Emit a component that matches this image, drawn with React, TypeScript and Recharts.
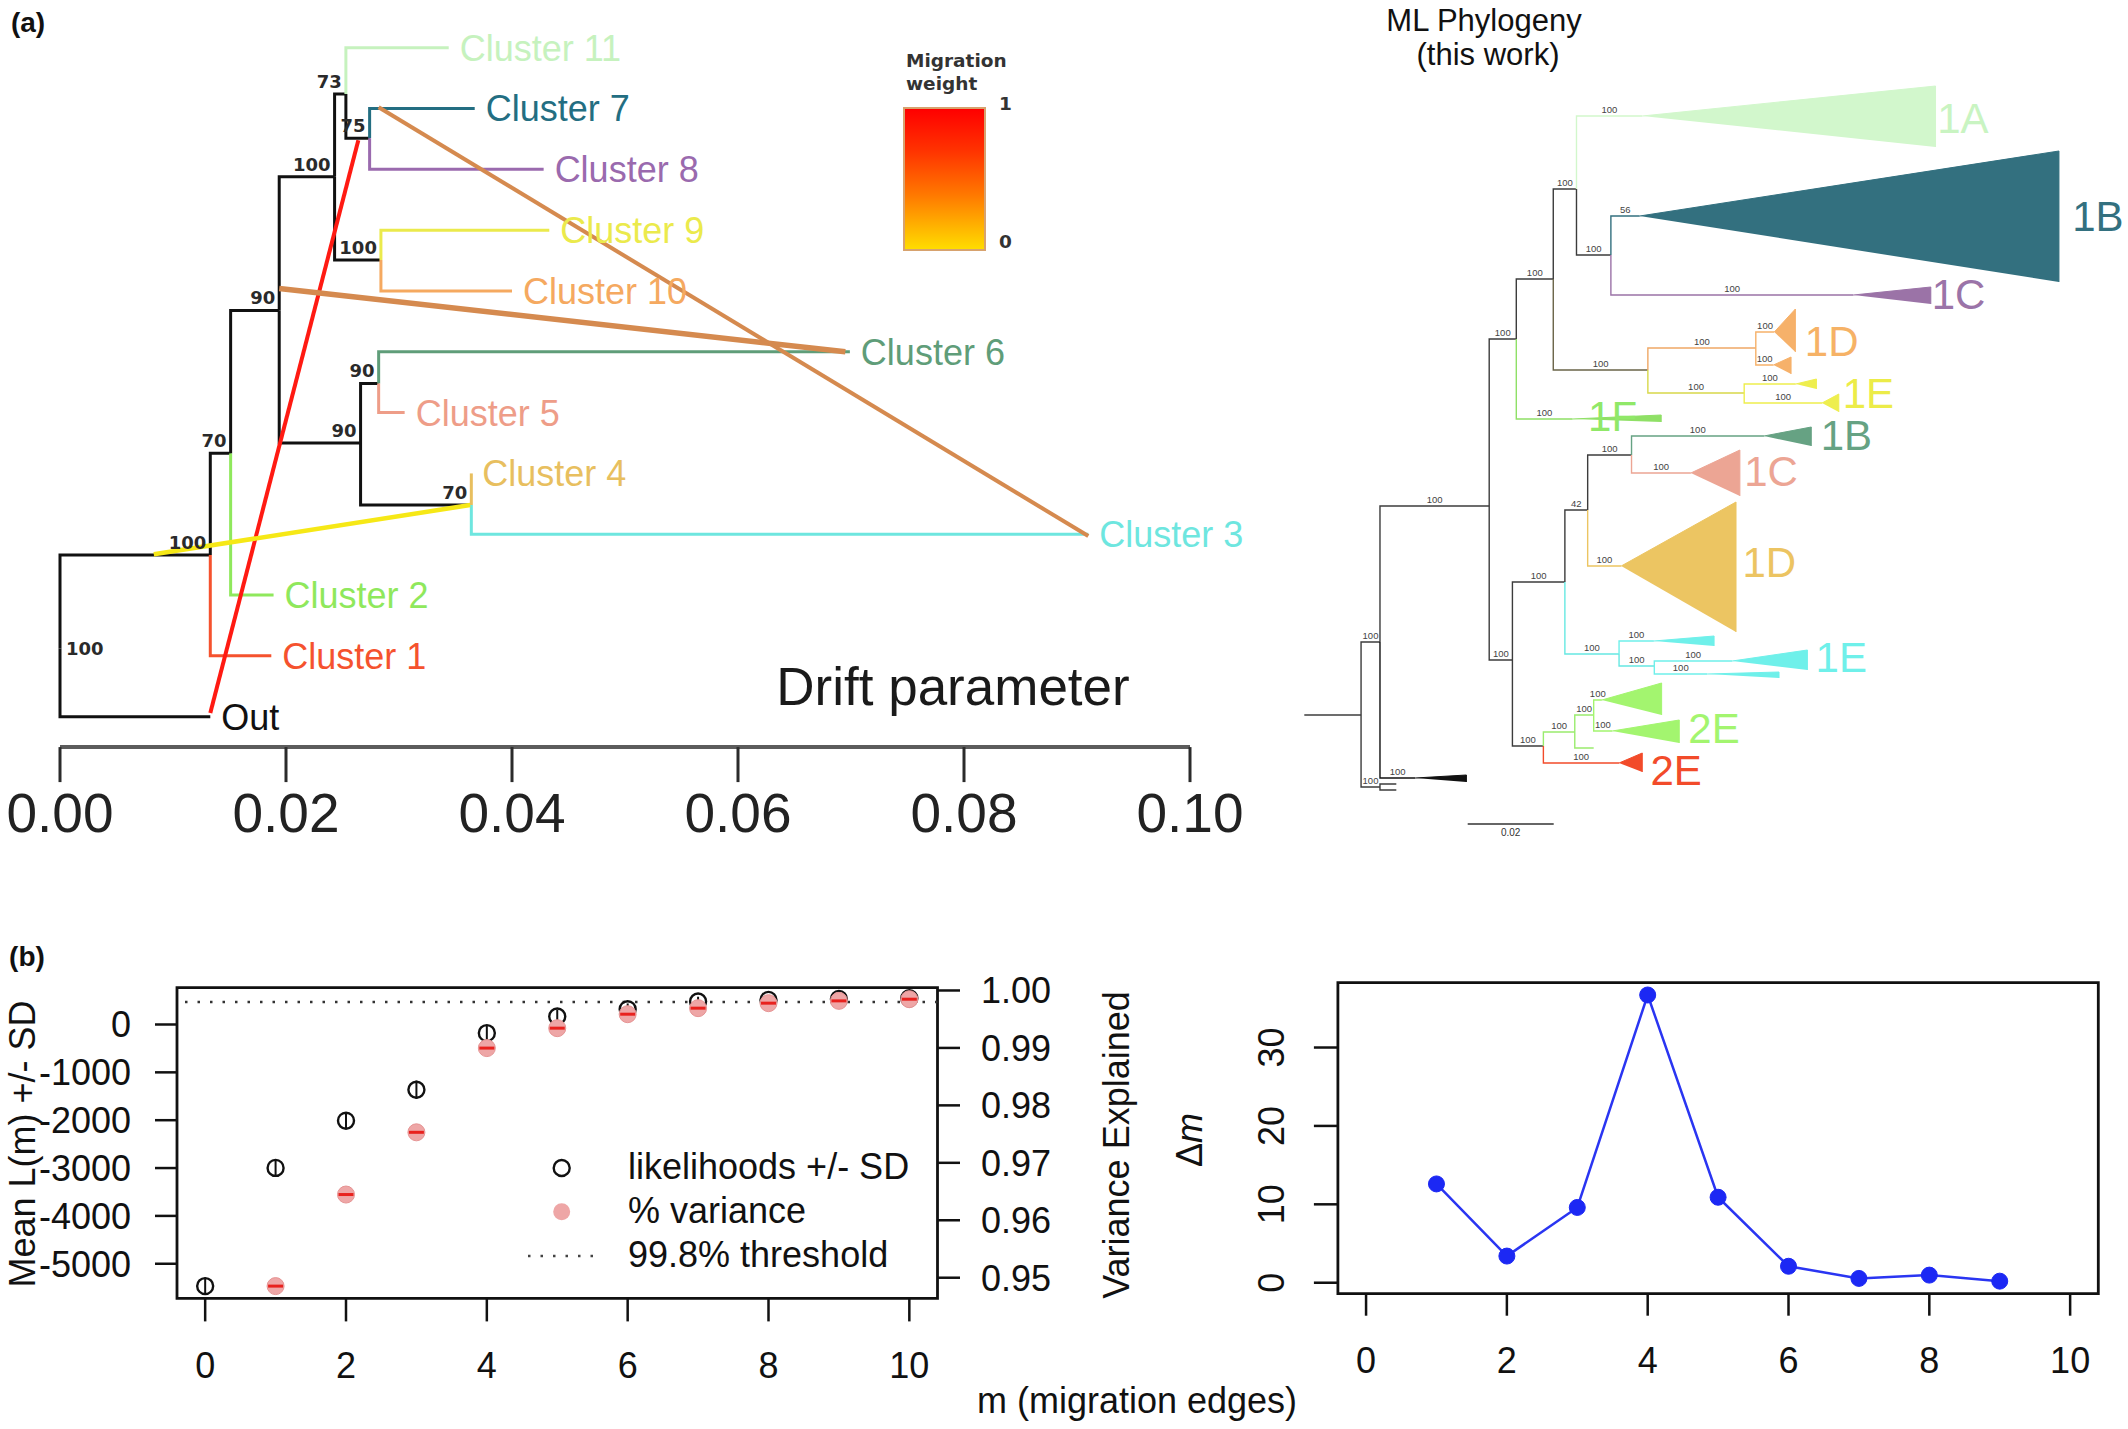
import React from "react";
import {
  ScatterChart,
  Scatter,
  XAxis,
  YAxis,
  ReferenceLine,
  ReferenceArea,
  ComposedChart,
  Line,
  LineChart,
  ErrorBar,
} from "recharts";

const SANS = "'Liberation Sans', Arial, Helvetica, sans-serif";
const DEJAVU = "'DejaVu Sans', Verdana, sans-serif";

// ---------- (a) TreeMix tree: x = drift parameter, y = row (Out = 0 ... Cluster 11 = 11)
const tmTips = [
  { id: "Out", x: 0.0133, y: 0 },
  { id: "Cluster 1", x: 0.0187, y: 1 },
  { id: "Cluster 2", x: 0.0189, y: 2 },
  { id: "Cluster 3", x: 0.091, y: 3 },
  { id: "Cluster 4", x: 0.0364, y: 4 },
  { id: "Cluster 5", x: 0.0305, y: 5 },
  { id: "Cluster 6", x: 0.0699, y: 6 },
  { id: "Cluster 10", x: 0.04, y: 7 },
  { id: "Cluster 9", x: 0.0433, y: 8 },
  { id: "Cluster 8", x: 0.0428, y: 9 },
  { id: "Cluster 7", x: 0.0367, y: 10 },
  { id: "Cluster 11", x: 0.0344, y: 11 },
];

const tmNodes = [
  { id: "root", x: 0, y: 1.12, boot: 100 },
  { id: "A", x: 0.0133, y: 2.66, boot: 100 },
  { id: "B", x: 0.0151, y: 4.33, boot: 70 },
  { id: "C", x: 0.0194, y: 6.68, boot: 90 },
  { id: "D", x: 0.0243, y: 8.88, boot: 100 },
  { id: "F", x: 0.0253, y: 10.24, boot: 73 },
  { id: "H", x: 0.0274, y: 9.51, boot: 75 },
  { id: "G", x: 0.0284, y: 7.51, boot: 100 },
  { id: "E", x: 0.0266, y: 4.5, boot: 90 },
  { id: "I", x: 0.0282, y: 5.48, boot: 90 },
  { id: "J", x: 0.0364, y: 3.48, boot: 70 },
];

const tmEdges: [string, string][] = [
  ["root", "Out"], ["root", "A"], ["A", "Cluster 1"], ["A", "B"],
  ["B", "Cluster 2"], ["B", "C"], ["C", "D"], ["C", "E"],
  ["D", "F"], ["D", "G"], ["F", "Cluster 11"], ["F", "H"],
  ["H", "Cluster 7"], ["H", "Cluster 8"], ["G", "Cluster 9"], ["G", "Cluster 10"],
  ["E", "I"], ["E", "J"], ["I", "Cluster 6"], ["I", "Cluster 5"],
  ["J", "Cluster 4"], ["J", "Cluster 3"],
];

// migration edges: start (drift,row) -> end (drift,row)
const migFrom = [[0.0133, 0.06], [0.0083, 2.67], [0.0194, 7.04], [0.0282, 10.02]];
const migTo = [[0.0264, 9.48], [0.0363, 3.48], [0.0695, 6.0], [0.091, 2.97]];
const migColors = ["#ff1a12", "#f6e816", "#d58a4f", "#d58a4f"];
const migWidths = [4, 4.5, 5.5, 4];

const driftTicks = [0, 0.02, 0.04, 0.06, 0.08, 0.1];

const tmColors: Record<string, string> = {
  Out: "#111111",
  "Cluster 1": "#f5522e",
  "Cluster 2": "#8fe85c",
  "Cluster 3": "#6ee6df",
  "Cluster 4": "#e8bf5f",
  "Cluster 5": "#ee9d88",
  "Cluster 6": "#5f9d79",
  "Cluster 7": "#236e82",
  "Cluster 8": "#9a6aae",
  "Cluster 9": "#ebea4c",
  "Cluster 10": "#f5a960",
  "Cluster 11": "#c6f2be",
};

// ---------- (a) ML phylogeny: x = substitutions/site, y = row (10 px units)
const phyNodes = [
  { id: "stem", x: 0, y: 71.5 },
  { id: "R0", x: 0.0132, y: 71.5 },
  { id: "R1", x: 0.0176, y: 64.2 },
  { id: "R2", x: 0.0176, y: 78.7 },
  { id: "og1", x: 0.0214, y: 78.4 },
  { id: "og2", x: 0.0214, y: 79.0 },
  { id: "NT", x: 0.043, y: 50.6 },
  { id: "NA", x: 0.0493, y: 33.9 },
  { id: "NB", x: 0.0484, y: 66.0 },
  { id: "NA1", x: 0.0579, y: 27.9 },
  { id: "NA2", x: 0.0633, y: 18.9 },
  { id: "NA4", x: 0.0713, y: 25.5 },
  { id: "NA3", x: 0.0799, y: 37.0 },
  { id: "NA5", x: 0.105, y: 34.8 },
  { id: "NA6", x: 0.1023, y: 39.3 },
  { id: "NB1", x: 0.0606, y: 58.2 },
  { id: "NB3", x: 0.0659, y: 51.0 },
  { id: "NB5", x: 0.0761, y: 45.5 },
  { id: "NB4", x: 0.0732, y: 65.4 },
  { id: "NB6", x: 0.0814, y: 66.6 },
  { id: "NB2", x: 0.0556, y: 74.6 },
  { id: "NB7", x: 0.0629, y: 73.2 },
  { id: "NB8", x: 0.0673, y: 71.5 },
  { id: "g2", x: 0.0673, y: 74.8 },
];

const phyEdges: [string, string, number | null][] = [
  ["stem", "R0", null], ["R0", "R1", 100], ["R0", "R2", 100], ["R2", "og1", null], ["R2", "og2", null],
  ["R1", "NT", 100], ["NT", "NA", 100], ["NT", "NB", 100], ["NA", "NA1", 100], ["NA1", "NA2", 100],
  ["NA2", "NA4", 100], ["NA1", "NA3", 100], ["NA3", "NA5", 100], ["NA3", "NA6", 100],
  ["NB", "NB1", 100], ["NB1", "NB3", 42], ["NB3", "NB5", 100], ["NB1", "NB4", 100], ["NB4", "NB6", 100],
  ["NB", "NB2", 100], ["NB2", "NB7", 100], ["NB7", "NB8", 100], ["NB7", "g2", null],
];

// collapsed clades: apex [x, y], base [x, yTop, yBottom]
const phyClades = [
  { id: "blk", parent: "R1", apex: [0.0258, 77.8], base: [0.0377, 77.5, 78.2], boot: 100 },
  { id: "1A", parent: "NA2", apex: [0.0786, 11.6], base: [0.1468, 8.6, 14.7], boot: 100 },
  { id: "1Bt", parent: "NA4", apex: [0.078, 21.6], base: [0.1755, 15.1, 28.2], boot: 56 },
  { id: "1Cp", parent: "NA4", apex: [0.1277, 29.5], base: [0.1457, 28.7, 30.4], boot: 100 },
  { id: "1Da", parent: "NA5", apex: [0.1093, 33.2], base: [0.1142, 30.9, 35.2], boot: 100 },
  { id: "1Db", parent: "NA5", apex: [0.1091, 36.5], base: [0.1132, 35.7, 37.4], boot: 100 },
  { id: "1Ea", parent: "NA6", apex: [0.1143, 38.4], base: [0.1191, 37.9, 38.9], boot: 100 },
  { id: "1Eb", parent: "NA6", apex: [0.1204, 40.3], base: [0.1243, 39.4, 41.2], boot: 100 },
  { id: "1F", parent: "NA", apex: [0.0624, 41.9], base: [0.083, 41.5, 42.2], boot: 100 },
  { id: "1Bg", parent: "NB5", apex: [0.1069, 43.6], base: [0.1179, 42.7, 44.6], boot: 100 },
  { id: "1Cs", parent: "NB5", apex: [0.0899, 47.3], base: [0.1013, 45.0, 49.6], boot: 100 },
  { id: "1Dg", parent: "NB3", apex: [0.0737, 56.6], base: [0.1004, 50.2, 63.2], boot: 100 },
  { id: "1Ec", parent: "NB4", apex: [0.0813, 64.1], base: [0.0953, 63.6, 64.6], boot: 100 },
  { id: "1Ed", parent: "NB6", apex: [0.0995, 66.1], base: [0.117, 65.0, 67.0], boot: 100 },
  { id: "1Ee", parent: "NB6", apex: [0.0937, 67.4], base: [0.1104, 67.2, 67.8], boot: 100 },
  { id: "2Ea", parent: "NB8", apex: [0.0692, 70.0], base: [0.0831, 68.3, 71.5], boot: 100 },
  { id: "2Eb", parent: "NB8", apex: [0.0716, 73.1], base: [0.0872, 72.0, 74.3], boot: 100 },
  { id: "2Er", parent: "NB2", apex: [0.0732, 76.3], base: [0.0786, 75.3, 77.2], boot: 100 },
];

const phyNames = ["1A", "1B", "1C", "1D", "1E", "1F", "1B", "1C", "1D", "1E", "2E", "2E"];
const phyNameX = [0.1472, 0.1786, 0.1459, 0.1164, 0.1252, 0.066, 0.1201, 0.1023, 0.1019, 0.1189, 0.0893, 0.0805];
const phyNameY = [11.8, 21.6, 29.4, 34.1, 39.3, 41.6, 43.5, 47.1, 56.2, 65.7, 72.8, 77.0];
const phyNameColors = ["#c9f4c2", "#33707f", "#9b74a8", "#f6b266", "#ecec48", "#90e868", "#66a283", "#eca594", "#ecc462", "#6ff0ea", "#a3f56f", "#f24b2a"];

const phyColors: Record<string, string> = {
  NA3: "#6a6448", NA5: "#efa865", NA6: "#d8d84a",
  "1Da": "#f6b16a", "1Db": "#f6b16a", "1Ea": "#eeee4e", "1Eb": "#eeee4e",
  "1A": "#d2f7cc", "1Bt": "#33707f", "1Cp": "#9b73a7", "1F": "#8fe066",
  "1Bg": "#66a283", "1Cs": "#eca594", "1Dg": "#ecc562",
  NB4: "#66e8e2", NB6: "#66e8e2", "1Ec": "#6ff0ea", "1Ed": "#6ff0ea", "1Ee": "#6ff0ea",
  NB7: "#9aec6e", NB8: "#9aec6e", g2: "#9aec6e", "2Ea": "#a3f56f", "2Eb": "#a3f56f",
  "2Er": "#f24b2a", blk: "#111111",
};

// ---------- (b) OptM output
const mEdges = [0, 1, 2, 3, 4, 5, 6, 7, 8, 9, 10];
const likMean = [-5467, -2997, -2010, -1363, -180, 167, 320, 480, 514, 535, 550];
const likSD = [180, 170, 170, 190, 160, 140, 120, 100, 90, 90, 80];
const varExplained = [null, 0.94854, 0.96448, 0.97531, 0.98997, 0.99344, 0.99587, 0.99692, 0.99779, 0.99819, 0.99848];
const threshold = 0.998;

const dmEdges = [1, 2, 3, 4, 5, 6, 7, 8, 9];
const deltaM = [12.6, 3.4, 9.6, 36.7, 10.9, 2.1, 0.55, 0.97, 0.2];

const mTicks = [0, 2, 4, 6, 8, 10];
const likTicks = [0, -1000, -2000, -3000, -4000, -5000];
const varTicks = [0.95, 0.96, 0.97, 0.98, 0.99, 1.0];
const dmTicks = [0, 10, 20, 30];

const legendLabels = ["likelihoods +/- SD", "% variance", "99.8% threshold"];

const noDot = () => <g />;

function Txt({
  x, y, size, children, anchor = "middle", weight = 400, family = SANS, color = "#111", rotate = 0, sy = 1,
}: any) {
  const tx = anchor === "middle" ? "-50%" : anchor === "end" ? "-100%" : "0%";
  return (
    <div
      style={{
        position: "absolute", left: x, top: y, whiteSpace: "nowrap", lineHeight: 1,
        fontSize: size, fontWeight: weight, fontFamily: family, color,
        transform: `translate(${tx}, -50%) rotate(${rotate}deg) scale(1, ${sy})`,
        transformOrigin: anchor === "start" ? "0% 50%" : "50% 50%",
      }}
    >
      {children}
    </div>
  );
}

function TreeMixChart() {
  const all = [...tmNodes, ...tmTips];
  const at = (id: string) => all.find((n) => n.id === id)!;
  const tipLabel = (p: any) => (
    <text x={p.cx + 11} y={p.cy} dy="0.36em" fontSize={36} fontFamily={SANS} fill={tmColors[p.payload.id]}>
      {p.payload.id}
    </text>
  );
  const bootLabel = (p: any) =>
    p.payload.id === "root" ? (
      <text x={p.cx + 6} y={p.cy} dy="0.36em" fontSize={18} fontWeight={700} fontFamily={DEJAVU} fill="#2a2a2a">
        {p.payload.boot}
      </text>
    ) : (
      <text x={p.cx - 4} y={p.cy - 6} textAnchor="end" fontSize={18} fontWeight={700} fontFamily={DEJAVU} fill="#2a2a2a">
        {p.payload.boot}
      </text>
    );
  const driftTick = (p: any) => (
    <text x={p.x} y={p.y} dy={50} textAnchor="middle" fontSize={55} fontFamily={SANS} fill="#222">
      {Number(p.payload.value).toFixed(2)}
    </text>
  );
  return (
    <ScatterChart width={1300} height={880} margin={{ top: 47.7, right: 110, bottom: 32.9, left: 60 }}>
      <XAxis
        type="number" dataKey="x" domain={[0, 0.1]} ticks={driftTicks} interval={0} height={100}
        tickSize={35} tickMargin={0} axisLine={{ stroke: "#5c5c5c", strokeWidth: 4 }}
        tickLine={{ stroke: "#2b2b2b", strokeWidth: 3 }} tick={driftTick}
      />
      <YAxis type="number" dataKey="y" domain={[-0.5, 11]} hide width={0} />
      {tmEdges.map(([p, c]) => (
        <Scatter
          key={p + c} data={[at(p), at(c)]} shape={noDot} isAnimationActive={false}
          line={{ stroke: tmColors[c] ?? "#111", strokeWidth: 3 }} lineJointType="stepBefore"
        />
      ))}
      {migFrom.map((f, i) => (
        <Scatter
          key={"mig" + i} data={[{ x: f[0], y: f[1] }, { x: migTo[i][0], y: migTo[i][1] }]}
          shape={noDot} isAnimationActive={false} lineJointType="linear"
          line={{ stroke: migColors[i], strokeWidth: migWidths[i] }}
        />
      ))}
      <Scatter data={tmTips} shape={tipLabel} isAnimationActive={false} />
      <Scatter data={tmNodes} shape={bootLabel} isAnimationActive={false} />
    </ScatterChart>
  );
}

function PhyloChart() {
  const pts: Record<string, { x: number; y: number }> = {};
  phyNodes.forEach((n) => (pts[n.id] = { x: n.x, y: n.y }));
  phyClades.forEach((c) => (pts[c.id] = { x: c.apex[0], y: c.apex[1] }));
  const edges: [string, string, number | null][] = [
    ...phyEdges,
    ...phyClades.map((c) => [c.parent, c.id, c.boot] as [string, string, number]),
  ];
  const boots = edges
    .filter((e) => e[2] != null)
    .map(([p, c, b]) => ({ x: (pts[p].x + pts[c].x) / 2, y: pts[c].y, b }));
  const names = phyNames.map((n, i) => ({ x: phyNameX[i], y: phyNameY[i], n, c: phyNameColors[i] }));
  const bootLabel = (p: any) => (
    <text x={p.cx} y={p.cy - 3.5} textAnchor="middle" fontSize={9.5} fontFamily={SANS} fill="#444">
      {p.payload.b}
    </text>
  );
  const nameLabel = (p: any) => (
    <text x={p.cx} y={p.cy} dy="0.36em" fontSize={42} fontFamily={SANS} fill={p.payload.c}>
      {p.payload.n}
    </text>
  );
  return (
    <ScatterChart width={848} height={870} margin={{ top: 0, right: 6.7, bottom: 0, left: 24.3 }}>
      <XAxis type="number" dataKey="x" domain={[0, 0.19]} hide height={0} />
      <YAxis type="number" dataKey="y" domain={[0, 87]} reversed hide width={0} />
      {edges.map(([p, c]) => (
        <Scatter
          key={p + c} data={[pts[p], pts[c]]} shape={noDot} isAnimationActive={false}
          line={{ stroke: phyColors[c] ?? "#3c3c3c", strokeWidth: 1.4 }} lineJointType="stepBefore"
        />
      ))}
      {phyClades.map((c) => (
        <Scatter
          key={"tri" + c.id}
          data={[
            { x: c.apex[0], y: c.apex[1] },
            { x: c.base[0], y: c.base[1] },
            { x: c.base[0], y: c.base[2] },
          ]}
          shape={noDot} isAnimationActive={false} lineJointType="linear"
          line={{ stroke: phyColors[c.id], fill: phyColors[c.id], strokeWidth: 1 }}
        />
      ))}
      <Scatter data={boots} shape={bootLabel} isAnimationActive={false} />
      <Scatter data={names} shape={nameLabel} isAnimationActive={false} />
      <ReferenceLine
        segment={[{ x: 0.038, y: 82.4 }, { x: 0.058, y: 82.4 }]} stroke="#333" strokeWidth={1.5}
        label={{ value: "0.02", position: "bottom", offset: 5, fontSize: 10, fill: "#333", fontFamily: SANS }}
      />
    </ScatterChart>
  );
}

const mTick = (p: any) => (
  <text x={p.x} y={p.y} dy={57} textAnchor="middle" fontSize={36} fontFamily={SANS} fill="#111">
    {p.payload.value}
  </text>
);

function LikelihoodChart() {
  const data = mEdges.map((m, i) => ({ m, lik: likMean[i], sd: likSD[i], v: varExplained[i] }));
  const likDot = (p: any) => (
    <circle key={"l" + p.index} cx={p.cx} cy={p.cy} r={8} fill="none" stroke="#111" strokeWidth={2.4} />
  );
  const varDot = (p: any) =>
    p.payload.v == null ? (
      <g key={"v" + p.index} />
    ) : (
      <g key={"v" + p.index}>
        <circle cx={p.cx} cy={p.cy} r={8.5} fill="#eea6a6" stroke="#e69494" strokeWidth={1} />
        <line x1={p.cx - 7.5} x2={p.cx + 7.5} y1={p.cy} y2={p.cy} stroke="#e8221e" strokeWidth={3} />
      </g>
    );
  return (
    <ComposedChart width={1250} height={499} data={data} margin={{ top: 57.6, right: 112.5, bottom: 50.6, left: 57 }}>
      <XAxis
        type="number" dataKey="m" domain={[-0.4, 10.4]} ticks={mTicks} interval={0} height={80}
        tickSize={23} tickMargin={0} axisLine={false} tickLine={{ stroke: "#111", strokeWidth: 2.5 }} tick={mTick}
      />
      <YAxis
        yAxisId="L" type="number" domain={[-5724, 771]} ticks={likTicks} interval={0} width={120}
        tickSize={22} tickMargin={24} axisLine={false} tickLine={{ stroke: "#111", strokeWidth: 2.5 }}
        tick={(p: any) => (
          <text x={p.x} y={p.y} dy="0.36em" textAnchor="end" fontSize={36} fontFamily={SANS} fill="#111">
            {p.payload.value}
          </text>
        )}
      />
      <YAxis
        yAxisId="R" orientation="right" type="number" domain={[0.9464, 1.0005]} ticks={varTicks} interval={0}
        width={200} tickSize={22.5} tickMargin={21} axisLine={false} tickLine={{ stroke: "#111", strokeWidth: 2.5 }}
        tick={(p: any) => (
          <text x={p.x} y={p.y} dy="0.36em" textAnchor="start" fontSize={36} fontFamily={SANS} fill="#111">
            {Number(p.payload.value).toFixed(2)}
          </text>
        )}
      />
      <ReferenceArea
        yAxisId="L" x1={-0.4} x2={10.4} y1={-5724} y2={771} fill="none" stroke="#111" strokeWidth={2.8}
        ifOverflow="visible"
      />
      <ReferenceLine yAxisId="R" y={threshold} stroke="#333" strokeWidth={2.6} strokeDasharray="2.5 10" />
      <Line yAxisId="L" dataKey="lik" stroke="none" dot={likDot} activeDot={false} isAnimationActive={false}>
        <ErrorBar dataKey="sd" width={0} stroke="#111" strokeWidth={2} direction="y" />
      </Line>
      <Line yAxisId="R" dataKey="v" stroke="none" dot={varDot} activeDot={false} isAnimationActive={false} />
    </ComposedChart>
  );
}

function DeltaChart() {
  const data = dmEdges.map((m, i) => ({ m, dm: deltaM[i] }));
  return (
    <LineChart width={978} height={499} data={data} margin={{ top: 52.6, right: 29.7, bottom: 55.3, left: 67.9 }}>
      <XAxis
        type="number" dataKey="m" domain={[-0.4, 10.4]} ticks={mTicks} interval={0} height={80}
        tickSize={22} tickMargin={0} axisLine={false} tickLine={{ stroke: "#111", strokeWidth: 2.5 }} tick={mTick}
      />
      <YAxis
        type="number" domain={[-1.4, 38.28]} ticks={dmTicks} interval={0} width={120} tickSize={24} tickMargin={0}
        axisLine={false} tickLine={{ stroke: "#111", strokeWidth: 2.5 }}
        tick={(p: any) => (
          <text
            transform={`translate(${p.x - 30}, ${p.y}) rotate(-90)`} textAnchor="middle" fontSize={36}
            fontFamily={SANS} fill="#111"
          >
            {p.payload.value}
          </text>
        )}
      />
      <ReferenceArea
        x1={-0.4} x2={10.4} y1={-1.4} y2={38.28} fill="none" stroke="#111" strokeWidth={2.8} ifOverflow="visible"
      />
      <Line
        dataKey="dm" stroke="#2a35f2" strokeWidth={2.5} isAnimationActive={false} activeDot={false}
        dot={{ r: 8, fill: "#1c28f4", stroke: "#1c28f4", strokeWidth: 1 }}
      />
    </LineChart>
  );
}

export default function App() {
  return (
    <div
      style={{
        position: "absolute", left: 0, top: 0, width: 2128, height: 1429, background: "#fff",
        overflow: "hidden", fontFamily: SANS,
      }}
    >
      <div style={{ position: "absolute", left: 0, top: 0 }}>
        <TreeMixChart />
      </div>
      <div style={{ position: "absolute", left: 1280, top: 0 }}>
        <PhyloChart />
      </div>
      <div style={{ position: "absolute", left: 0, top: 930 }}>
        <LikelihoodChart />
      </div>
      <div style={{ position: "absolute", left: 1150, top: 930 }}>
        <DeltaChart />
      </div>

      {/* panel (a) annotations */}
      <Txt x={28} y={23} size={28} weight={700}>(a)</Txt>
      <Txt x={906} y={61} size={18.5} weight={700} family={DEJAVU} anchor="start" color="#333">Migration</Txt>
      <Txt x={906} y={84} size={18.5} weight={700} family={DEJAVU} anchor="start" color="#333">weight</Txt>
      <div
        style={{
          position: "absolute", left: 903, top: 107, width: 83, height: 144, boxSizing: "border-box",
          border: "2px solid #d7a26e",
          background: "linear-gradient(to bottom, #ff0000 0%, #ff3300 30%, #ff7a00 62%, #ffdc00 100%)",
        }}
      />
      <Txt x={999} y={104} size={18.5} weight={700} family={DEJAVU} anchor="start" color="#333">1</Txt>
      <Txt x={999} y={242} size={18.5} weight={700} family={DEJAVU} anchor="start" color="#333">0</Txt>
      <Txt x={953} y={686} size={53} color="#1a1a1a">Drift parameter</Txt>
      <Txt x={1484} y={20} size={31}>ML Phylogeny</Txt>
      <Txt x={1488} y={54} size={31}>(this work)</Txt>

      {/* panel (b) annotations */}
      <Txt x={27} y={957} size={28} weight={700}>(b)</Txt>
      <Txt x={23} y={1144} size={36} rotate={-90}>Mean L(m) +/- SD</Txt>
      <Txt x={1117} y={1145} size={36} rotate={-90}>Variance Explained</Txt>
      <Txt x={1190} y={1140} size={36} rotate={-90}>
        Δ<i>m</i>
      </Txt>
      <Txt x={1137} y={1401} size={36}>m (migration edges)</Txt>

      {/* legend of the likelihood plot */}
      <svg style={{ position: "absolute", left: 520, top: 1145 }} width={90} height={130}>
        <circle cx={41.7} cy={23} r={8} fill="none" stroke="#111" strokeWidth={2.4} />
        <circle cx={41.7} cy={66.7} r={8.5} fill="#eea6a6" />
        <line x1={8} x2={73} y1={111} y2={111} stroke="#444" strokeWidth={2.6} strokeDasharray="2.5 10" />
      </svg>
      {legendLabels.map((t, i) => (
        <Txt key={t} x={628} y={1167 + i * 44} size={36} anchor="start">
          {t}
        </Txt>
      ))}
    </div>
  );
}
